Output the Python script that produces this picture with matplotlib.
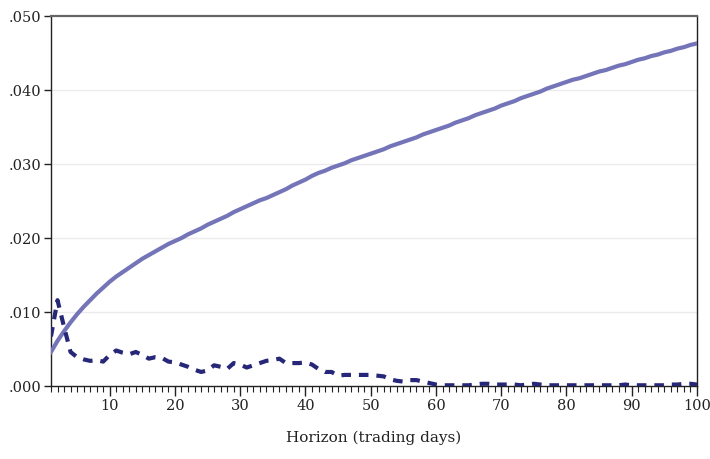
import matplotlib
matplotlib.use("Agg")
import matplotlib.pyplot as plt
from matplotlib.ticker import MultipleLocator, FuncFormatter

horizon = list(range(1, 101))

solid_series = [
    .0046, .0061, .0074, .0086, .0097, .0107, .0116, .0125, .0133, .0141,
    .0148, .0154, .0160, .0166, .0172, .0177, .0182, .0187, .0192, .0196,
    .0200, .0205, .0209, .0213, .0218, .0222, .0226, .0230, .0235, .0239,
    .0243, .0247, .0251, .0254, .0258, .0262, .0266, .0271, .0275, .0279,
    .0284, .0288, .0291, .0295, .0298, .0301, .0305, .0308, .0311, .0314,
    .0317, .0320, .0324, .0327, .0330, .0333, .0336, .0340, .0343, .0346,
    .0349, .0352, .0356, .0359, .0362, .0366, .0369, .0372, .0375, .0379,
    .0382, .0385, .0389, .0392, .0395, .0398, .0402, .0405, .0408, .0411,
    .0414, .0416, .0419, .0422, .0425, .0427, .0430, .0433, .0435, .0438,
    .0441, .0443, .0446, .0448, .0451, .0453, .0456, .0458, .0461, .0463,
]

dashed_series = [
    .0067, .0116, .0080, .0046, .0039, .0036, .0034, .0035, .0033, .0042,
    .0048, .0045, .0043, .0046, .0042, .0037, .0039, .0038, .0033, .0032,
    .0029, .0026, .0022, .0019, .0021, .0028, .0026, .0023, .0031, .0029,
    .0025, .0028, .0031, .0034, .0035, .0037, .0031, .0031, .0031, .0032,
    .0029, .0023, .0019, .0019, .0014, .0015, .0015, .0015, .0015, .0015,
    .0014, .0013, .0009, .0007, .0006, .0008, .0008, .0006, .0004, .0002,
    .0001, .0001, .0001, .0001, .0001, .0002, .0003, .0003, .0002, .0002,
    .0002, .0002, .0001, .0002, .0003, .0002, .0001, .0001, .0001, .0001,
    .0001, .0001, .0001, .0001, .0001, .0001, .0001, .0001, .0002, .0001,
    .0001, .0001, .0001, .0001, .0001, .0002, .0002, .0003, .0003, .0002,
]

y_ticks = [0.0, 0.01, 0.02, 0.03, 0.04, 0.05]
x_ticks = [10, 20, 30, 40, 50, 60, 70, 80, 90, 100]
x_label = "Horizon (trading days)"

plt.rcParams['font.family'] = ['DejaVu Serif']

fig = plt.figure(figsize=(7.1, 4.59), dpi=100)
ax = fig.add_axes([0.0718, 0.159, 0.9099, 0.806])

ax.plot(horizon, solid_series, color='#7474b8', lw=3.0, solid_joinstyle='round', zorder=3)
ax.plot(horizon, dashed_series, color='#27277a', lw=3.0, dashes=(2.3, 1.9), zorder=4)

ax.set_xlim(1, 100)
ax.set_ylim(0, 0.05)
ax.set_yticks(y_ticks)
ax.yaxis.set_major_formatter(FuncFormatter(lambda v, p: ("%.3f" % v)[1:]))
ax.set_xticks(x_ticks)
ax.xaxis.set_minor_locator(MultipleLocator(1))

for yv in y_ticks[1:-1]:
    ax.axhline(yv, color='#ebebeb', lw=1.0, zorder=1)

for s in ['left', 'bottom', 'right']:
    ax.spines[s].set_color('#222222')
    ax.spines[s].set_linewidth(1.0)
ax.spines['top'].set_color('#666666')
ax.spines['top'].set_linewidth(1.6)

ax.tick_params(axis='y', direction='out', length=5, width=1, labelsize=10.5, pad=2, colors='#222222')
ax.tick_params(axis='x', which='major', direction='out', length=7, width=1, labelsize=10.5, pad=2, colors='#222222')
ax.tick_params(axis='x', which='minor', direction='out', length=4, width=0.8, colors='#222222')

ax.set_xlabel(x_label, fontsize=11, labelpad=13, color='#222222')

fig.savefig("out.png", dpi=100)
